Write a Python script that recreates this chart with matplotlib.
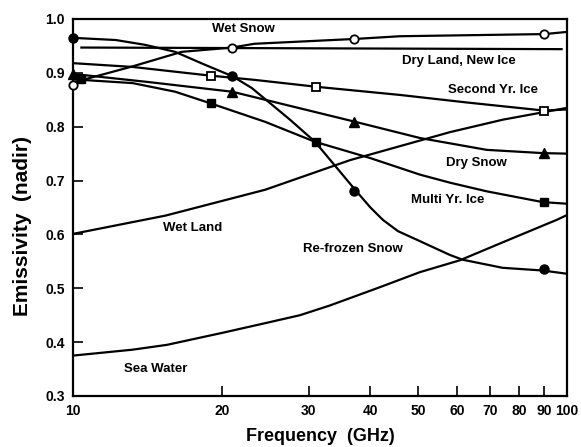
import numpy as np
import matplotlib
matplotlib.use('Agg')
import matplotlib.pyplot as plt

plt.rcParams['font.family'] = ['Liberation Sans', 'DejaVu Sans']
plt.rcParams['font.weight'] = 'bold'

# curves (frequency GHz, emissivity)
wet_snow_f = [10, 13.2, 16.6, 21, 23.3, 37.3, 45.9, 90, 100]
wet_snow_e = [0.882, 0.912, 0.939, 0.947, 0.954, 0.963, 0.968, 0.972, 0.976]
wet_snow_mf = [10, 21, 37, 90]
wet_snow_me = [0.878, 0.947, 0.963, 0.972]

dry_land_f = [10.4, 97.5]
dry_land_e = [0.947, 0.944]

second_yr_f = [10, 13.2, 18.9, 23.3, 31.2, 45.9, 62.7, 89.8, 100]
second_yr_e = [0.918, 0.911, 0.895, 0.887, 0.874, 0.859, 0.845, 0.830, 0.832]
second_yr_mf = [19, 31, 90]
second_yr_me = [0.895, 0.874, 0.830]

dry_snow_f = [10, 14.2, 21, 37.3, 50.4, 68.8, 89.3, 100]
dry_snow_e = [0.898, 0.883, 0.865, 0.809, 0.779, 0.757, 0.751, 0.750]
dry_snow_mf = [10, 21, 37, 90]
dry_snow_me = [0.898, 0.865, 0.809, 0.751]

multi_yr_f = [10, 13.2, 16.1, 18.9, 24.5, 30.9, 39.9, 50.4, 58, 68.8, 89.3, 100]
multi_yr_e = [0.888, 0.881, 0.865, 0.844, 0.809, 0.772, 0.742, 0.711, 0.696, 0.680, 0.660, 0.657]
multi_yr_mf = [10.4, 19, 31, 90]
multi_yr_me = [0.888, 0.844, 0.772, 0.660]

refrozen_f = [10, 12.2, 14, 16.1, 18.5, 21, 23, 27.5, 30.9, 37.4, 40, 42.4, 45.5, 49.7, 57.9, 61.5, 74.1, 89.3, 100]
refrozen_e = [0.965, 0.961, 0.952, 0.939, 0.915, 0.894, 0.872, 0.813, 0.772, 0.681, 0.650, 0.627, 0.606, 0.590, 0.562, 0.553, 0.538, 0.533, 0.527]
refrozen_mf = [10, 21, 37, 90]
refrozen_me = [0.965, 0.894, 0.681, 0.536]

wet_land_f = [10, 15.4, 24.5, 36.4, 58, 74.1, 100]
wet_land_e = [0.601, 0.635, 0.683, 0.738, 0.790, 0.813, 0.835]

sea_water_f = [10, 13.2, 15.5, 20, 24.7, 28.8, 33.1, 41.8, 50.4, 60.7, 77.6, 95.3, 100]
sea_water_e = [0.375, 0.386, 0.395, 0.417, 0.436, 0.450, 0.468, 0.502, 0.530, 0.552, 0.593, 0.627, 0.636]

x_ticks = [10, 20, 30, 40, 50, 60, 70, 80, 90, 100]
y_ticks = [0.3, 0.4, 0.5, 0.6, 0.7, 0.8, 0.9, 1.0]

fig = plt.figure(figsize=(5.81, 4.47), dpi=100)
ax = fig.add_axes([0.1256, 0.1141, 0.8503, 0.8434])
lw = 1.6
k = 'black'

ax.plot(wet_snow_f, wet_snow_e, color=k, lw=lw)
ax.plot(wet_snow_mf, wet_snow_me, 'o', color=k, mfc='white', mew=1.3, ms=6, ls='none', clip_on=False, zorder=5)
ax.plot(dry_land_f, dry_land_e, color=k, lw=lw)
ax.plot(second_yr_f, second_yr_e, color=k, lw=lw)
ax.plot(second_yr_mf, second_yr_me, 's', color=k, mfc='white', mew=1.3, ms=6, ls='none', clip_on=False, zorder=5)
ax.plot(dry_snow_f, dry_snow_e, color=k, lw=lw)
ax.plot(dry_snow_mf, dry_snow_me, '^', color=k, ms=6.5, ls='none', clip_on=False, zorder=5)
ax.plot(multi_yr_f, multi_yr_e, color=k, lw=lw)
ax.plot(multi_yr_mf, multi_yr_me, 's', color=k, ms=5.5, ls='none', clip_on=False, zorder=5)
ax.plot(refrozen_f, refrozen_e, color=k, lw=lw)
ax.plot(refrozen_mf, refrozen_me, 'o', color=k, ms=6.5, ls='none', clip_on=False, zorder=5)
ax.plot(wet_land_f, wet_land_e, color=k, lw=lw)
ax.plot(sea_water_f, sea_water_e, color=k, lw=lw)

# curve labels
fs = 9.5
ax.text(22.1, 0.981, 'Wet Snow', ha='center', va='center', fontsize=fs, weight='bold')
ax.text(60.4, 0.922, 'Dry Land, New Ice', ha='center', va='center', fontsize=fs, weight='bold')
ax.text(70.8, 0.868, 'Second Yr. Ice', ha='center', va='center', fontsize=fs, weight='bold')
ax.text(65.7, 0.733, 'Dry Snow', ha='center', va='center', fontsize=fs, weight='bold')
ax.text(57.4, 0.664, 'Multi Yr. Ice', ha='center', va='center', fontsize=fs, weight='bold')
ax.text(17.5, 0.612, 'Wet Land', ha='center', va='center', fontsize=fs, weight='bold')
ax.text(36.9, 0.573, 'Re-frozen Snow', ha='center', va='center', fontsize=fs, weight='bold')
ax.text(14.7, 0.351, 'Sea Water', ha='center', va='center', fontsize=fs, weight='bold')

ax.set_xscale('log')
ax.set_xlim(10, 100)
ax.set_ylim(0.3, 1.0)
ax.set_xticks(x_ticks)
ax.set_xticklabels([str(t) for t in x_ticks])
ax.xaxis.set_minor_locator(matplotlib.ticker.NullLocator())
ax.set_yticks(y_ticks)
ax.set_yticklabels(['%.1f' % t for t in y_ticks])
ax.tick_params(axis='both', direction='in', length=7, width=1.2, labelsize=10, pad=6)
for lab in ax.get_xticklabels() + ax.get_yticklabels():
    lab.set_fontweight('bold')
for s in ax.spines.values():
    s.set_linewidth(1.6)

ax.set_xlabel('Frequency  (GHz)', fontsize=13, weight='bold')
ax.xaxis.set_label_coords(0.5, -0.085)
ax.set_ylabel('Emissivity  (nadir)', fontsize=15, weight='bold')
ax.yaxis.set_label_coords(-0.082, 0.45)

fig.savefig('out.png', dpi=100)
